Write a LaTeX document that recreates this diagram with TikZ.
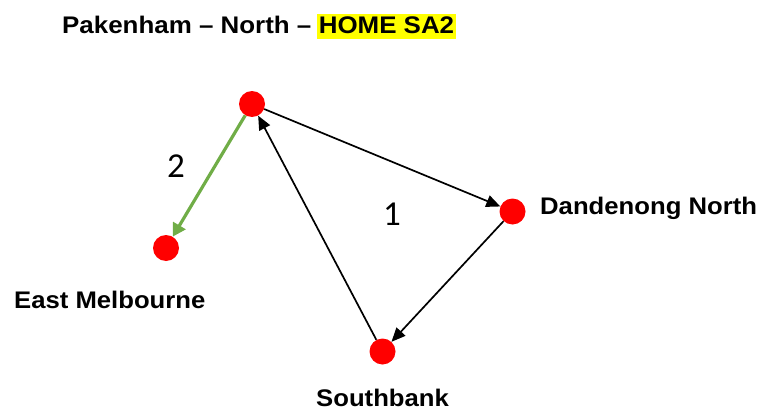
\documentclass[tikz,border=0pt]{standalone}
\usepackage{fontspec}
\setmainfont{Liberation Sans}
\newfontfamily\lbfont[FakeStretch=1.07]{Liberation Sans}
\newfontfamily\ttlfont[FakeStretch=1.08]{Liberation Sans}
\newfontfamily\numfont{Carlito}
\usetikzlibrary{arrows.meta}
\definecolor{hl}{RGB}{255,255,0}
\definecolor{grn}{RGB}{112,173,71}
\tikzset{
  dot/.style={circle,fill=red,draw=none,minimum size=26pt,inner sep=0pt},
  lbl/.style={font=\lbfont\bfseries\fontsize{24}{28}\selectfont,inner sep=0pt},
  ttl/.style={font=\ttlfont\bfseries\fontsize{24}{28}\selectfont,inner sep=0pt},
  num/.style={font=\numfont\fontsize{35}{40}\selectfont,inner sep=0pt},
  blk/.style={draw=black,line width=1.7pt,-{Triangle[length=14pt,width=12pt]}},
  grnarr/.style={draw=grn,line width=3.2pt,-{Triangle[length=13pt,width=14pt]}}
}
\begin{document}
\begin{tikzpicture}[x=1pt,y=-1pt]
\useasboundingbox (0,0) rectangle (760,412);
\node[ttl,anchor=base west] (title) at (62,34) {Pakenham – North –};
\node[ttl,anchor=base west,fill=hl,inner xsep=2pt,inner ysep=0pt,text height=20pt,text depth=5pt] (home) at ([xshift=5pt]title.base east) {HOME SA2};
\node[dot] (top) at (252,104) {};
\node[dot] (dan) at (512.5,211.5) {};
\node[dot] (sb) at (382.5,351.5) {};
\node[dot] (em) at (166,248) {};
\node[lbl,anchor=base west] (danl) at (540,214.5) {Dandenong North};
\node[lbl,anchor=base west] (eml) at (14,308) {East Melbourne};
\node[lbl,anchor=base west] (sbl) at (316,406) {Southbank};
\node[num] (n1) at (392,214.5) {1};
\node[num] (n2) at (176,166) {2};
\draw[blk] (top) -- (dan);
\draw[blk] (dan) -- (sb);
\draw[blk] (sb) -- (top);
\draw[grnarr] (top) -- (em);
\end{tikzpicture}
\end{document}
